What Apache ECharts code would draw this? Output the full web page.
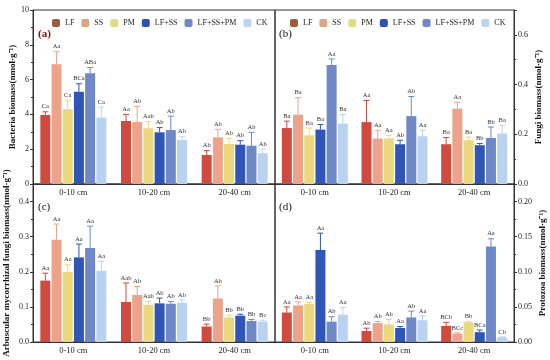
<!DOCTYPE html>
<html><head><meta charset="utf-8">
<script src="https://cdn.jsdelivr.net/npm/echarts@6/dist/echarts.min.js"></script>
<style>html,body{margin:0;padding:0;background:#fff}#c{width:550px;height:360px}</style>
</head><body><div id="c"></div>
<script>
const categories = ['0-10 cm', '10-20 cm', '20-40 cm'];
const treatments = ['LF', 'SS', 'PM', 'LF+SS', 'LF+SS+PM', 'CK'];

// (a) Bacteria biomass, rows = treatments, columns = depths
const bacteriaMean = [[3.97, 3.62, 1.67], [6.88, 3.56, 2.68], [4.30, 3.20, 2.30], [5.30, 2.97, 2.26], [6.36, 3.10, 2.20], [3.82, 2.53, 1.77]];
const bacteriaErr  = [[0.18, 0.38, 0.25], [0.72, 0.90, 0.46], [0.52, 0.38, 0.32], [0.46, 0.27, 0.23], [0.33, 0.80, 0.77], [0.60, 0.19, 0.24]];
const bacteriaSig  = [['Ca', 'Aa', 'Ab'], ['Aa', 'Ab', 'Ab'], ['Ca', 'Aab', 'Ab'], ['BCa', 'Ab', 'Ab'], ['ABa', 'Ab', 'Ab'], ['Ca', 'Ab', 'Ab']];

// (b) Fungi biomass
const fungiMean = [[0.225, 0.249, 0.160], [0.279, 0.183, 0.303], [0.196, 0.183, 0.176], [0.219, 0.160, 0.156], [0.479, 0.273, 0.185], [0.243, 0.192, 0.203]];
const fungiErr  = [[0.028, 0.087, 0.027], [0.068, 0.033, 0.026], [0.029, 0.013, 0.013], [0.020, 0.016, 0.007], [0.024, 0.079, 0.044], [0.036, 0.024, 0.033]];
const fungiSig  = [['Ba', 'Aa', 'Ba'], ['Ba', 'Aa', 'Aa'], ['Ba', 'Aa', 'Ba'], ['Ba', 'Ab', 'Bb'], ['Aa', 'Ab', 'Bb'], ['Ba', 'Aa', 'Ba']];

// (c) Arbuscular mycorrhizal fungi biomass
const amfMean = [[0.175, 0.114, 0.044], [0.291, 0.134, 0.124], [0.200, 0.106, 0.070], [0.241, 0.110, 0.075], [0.268, 0.109, 0.060], [0.203, 0.112, 0.058]];
const amfErr  = [[0.021, 0.054, 0.007], [0.045, 0.024, 0.036], [0.020, 0.009, 0.007], [0.038, 0.015, 0.004], [0.062, 0.006, 0.004], [0.027, 0.008, 0.004]];
const amfSig  = [['Aa', 'Aab', 'Bb'], ['Aa', 'Ab', 'Ab'], ['Aa', 'Aab', 'Bb'], ['Aa', 'Ab', 'Bb'], ['Aa', 'Ab', 'Bb'], ['Aa', 'Ab', 'Bc']];

// (d) Protozoa biomass
const protoMean = [[0.042, 0.0157, 0.023], [0.052, 0.027, 0.012], [0.054, 0.025, 0.028], [0.131, 0.020, 0.014], [0.029, 0.035, 0.136], [0.039, 0.031, 0.0067]];
const protoErr  = [[0.008, 0.004, 0.005], [0.005, 0.002, 0.001], [0.002, 0.007, 0.001], [0.024, 0.002, 0.003], [0.007, 0.009, 0.011], [0.010, 0.006, 0.0005]];
const protoSig  = [['Aa', 'Ab', 'BCb'], ['Aa', 'Ab', 'BCc'], ['Aa', 'Ab', 'Bb'], ['Aa', 'Aa', 'BCa'], ['Ab', 'Ab', 'Aa'], ['Aa', 'Aa', 'Cb']];

const barColors = ['#cf4b3d', '#eda28a', '#e9d87c', '#2f56b6', '#6f88c6', '#b9d2f0'];
const legendColors = ['#98603e', '#dca685', '#e2dc80', '#2f52b0', '#7088c8', '#bcd4f0'];

const FONT = '"Liberation Serif", "Times New Roman", serif';
const BAR_W = 10, BAR_GAP = 0.12;
const STEP = BAR_W * (1 + BAR_GAP);

const panels = [
  {mean: bacteriaMean, err: bacteriaErr, sig: bacteriaSig},
  {mean: fungiMean, err: fungiErr, sig: fungiSig},
  {mean: amfMean, err: amfErr, sig: amfSig},
  {mean: protoMean, err: protoErr, sig: protoSig}
];

const grids = [
  {left: 33, top: 10, width: 242, height: 174},
  {left: 275, top: 10, width: 239, height: 174},
  {left: 33, top: 184, width: 242, height: 158},
  {left: 275, top: 184, width: 239, height: 158}
].map(g => Object.assign({show: true, borderColor: '#333', borderWidth: 1, backgroundColor: 'transparent'}, g));

const xAxes = [0, 1, 2, 3].map(i => ({
  type: 'category', gridIndex: i, data: categories,
  axisLine: {lineStyle: {color: '#333', width: 1}},
  axisTick: {alignWithLabel: true, length: 3, lineStyle: {color: '#333'}},
  axisLabel: {fontFamily: FONT, fontSize: 8.5, color: '#222', margin: 4}
}));

const nameStyle = {fontFamily: FONT, fontSize: 9, fontWeight: 'bold', color: '#111'};
const yBase = {
  type: 'value', min: 0, splitLine: {show: false},
  axisLine: {show: true, lineStyle: {color: '#333', width: 1}},
  axisTick: {show: true, length: 3, lineStyle: {color: '#333'}},
  minorTick: {show: true, splitNumber: 2, length: 2, lineStyle: {color: '#333'}},
  nameLocation: 'middle', nameRotate: 90, nameTextStyle: nameStyle
};
const yAxes = [
  Object.assign({}, yBase, {gridIndex: 0, position: 'left', max: 10, interval: 2, name: 'Bacteria biomass(nmol·g⁻¹)', nameGap: 16,
    axisLabel: {fontFamily: FONT, fontSize: 8, color: '#222', margin: 4}}),
  Object.assign({}, yBase, {gridIndex: 1, position: 'right', max: 0.7, interval: 0.2, name: 'Fungi biomass(nmol·g⁻¹)', nameGap: 20,
    axisLabel: {fontFamily: FONT, fontSize: 8, color: '#222', margin: 4, showMaxLabel: false, formatter: v => v.toFixed(1)}}),
  Object.assign({}, yBase, {gridIndex: 2, position: 'left', max: 0.45, interval: 0.1, name: 'Arbuscular mycorrhizal fungi biomass(nmol·g⁻¹)', nameGap: 22,
    axisLabel: {fontFamily: FONT, fontSize: 8, color: '#222', margin: 4, showMaxLabel: false, formatter: v => v.toFixed(1)}}),
  Object.assign({}, yBase, {gridIndex: 3, position: 'right', max: 0.225, interval: 0.05, name: 'Protozoa biomass(nmol·g⁻¹)', nameGap: 24,
    axisLabel: {fontFamily: FONT, fontSize: 8, color: '#222', margin: 4, showMaxLabel: false, formatter: v => v.toFixed(2)}})
];

const series = [];
panels.forEach((p, pi) => {
  treatments.forEach((t, ti) => {
    series.push({
      type: 'bar', name: t, xAxisIndex: pi, yAxisIndex: pi,
      data: p.mean[ti], barWidth: BAR_W, barGap: (BAR_GAP * 100) + '%',
      itemStyle: {color: barColors[ti]}, z: 2
    });
  });
  const errData = [];
  treatments.forEach((t, ti) => {
    categories.forEach((c, ci) => errData.push([ci, p.mean[ti][ci], p.err[ti][ci], ti]));
  });
  series.push({
    type: 'custom', name: 'err' + pi, xAxisIndex: pi, yAxisIndex: pi, z: 5,
    data: errData, encode: {x: 0, y: 1},
    renderItem: function (params, api) {
      const ci = api.value(0), m = api.value(1), e = api.value(2), ti = api.value(3);
      const b = api.coord([ci, m]);
      const tp = api.coord([ci, m + e]);
      const cx = b[0] + (ti - 2.5) * STEP;
      const col = barColors[ti];
      return {
        type: 'group',
        children: [
          {type: 'line', shape: {x1: cx, y1: b[1], x2: cx, y2: tp[1]}, style: {stroke: col, lineWidth: 1}},
          {type: 'line', shape: {x1: cx - 3, y1: tp[1], x2: cx + 3, y2: tp[1]}, style: {stroke: col, lineWidth: 1}},
          {type: 'text', style: {text: p.sig[ti][ci], x: cx, y: tp[1] - 1.5, align: 'center', verticalAlign: 'bottom',
            fontFamily: FONT, fontSize: 6.5, fill: '#333'}}
        ]
      };
    }
  });
});

const legendData = treatments.map((t, i) => ({name: t, itemStyle: {color: legendColors[i]}}));
const legendBase = {data: legendData, itemWidth: 8, itemHeight: 8, itemGap: 7, selectedMode: false,
  textStyle: {fontFamily: FONT, fontSize: 8, color: '#222'}, padding: 0};

const chart = echarts.init(document.getElementById('c'), null, {renderer: 'canvas'});
chart.setOption({
  animation: false,
  backgroundColor: '#fff',
  grid: grids,
  xAxis: xAxes,
  yAxis: yAxes,
  legend: [
    Object.assign({}, legendBase, {left: 52, top: 19}),
    Object.assign({}, legendBase, {left: 290, top: 19})
  ],
  title: [
    {text: '(a)', left: 38, top: 29, textStyle: {fontFamily: FONT, fontSize: 11, fontWeight: 'bold', color: '#8b1020'}},
    {text: '(b)', left: 279, top: 29, textStyle: {fontFamily: FONT, fontSize: 11, fontWeight: 'normal', color: '#111'}},
    {text: '(c)', left: 38, top: 202, textStyle: {fontFamily: FONT, fontSize: 11, fontWeight: 'normal', color: '#111'}},
    {text: '(d)', left: 279, top: 202, textStyle: {fontFamily: FONT, fontSize: 11, fontWeight: 'normal', color: '#111'}}
  ].map(t => Object.assign({padding: 0}, t)),
  series: series
});
</script>
</body></html>
